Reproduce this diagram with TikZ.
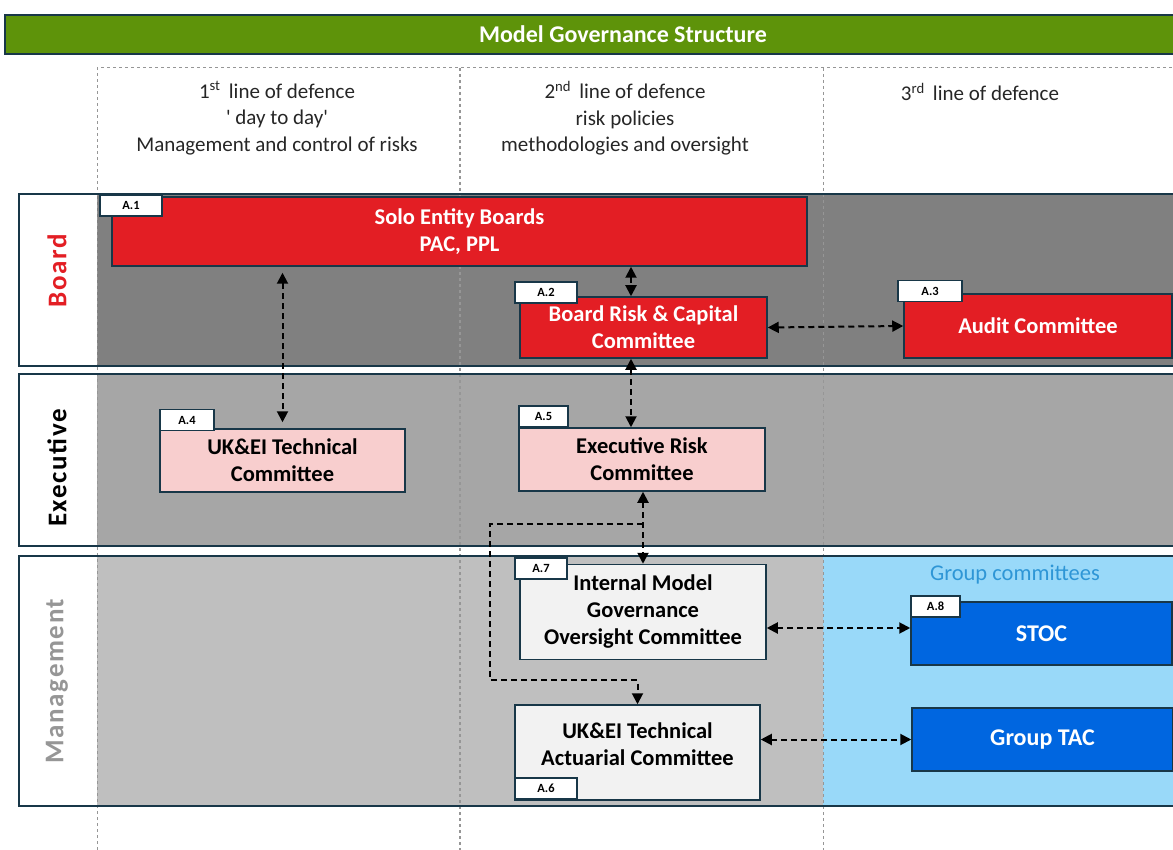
\documentclass[tikz,border=0pt]{standalone}
\usepackage{fontspec}
\setmainfont{Carlito}
\newfontfamily\lanefont[LetterSpace=6.0]{Carlito}
\usepackage{tikz}
\usetikzlibrary{arrows.meta}

\definecolor{frame}{RGB}{24,55,72}
\definecolor{bannergreen}{RGB}{94,147,10}
\definecolor{boardred}{RGB}{227,30,36}
\definecolor{execpink}{RGB}{248,206,206}
\definecolor{mgmtwhite}{RGB}{242,242,242}
\definecolor{groupblue}{RGB}{0,102,224}
\definecolor{groupsky}{RGB}{153,217,249}
\definecolor{grouptext}{RGB}{46,150,214}
\definecolor{boardgray}{RGB}{128,128,128}
\definecolor{execgray}{RGB}{166,166,166}
\definecolor{mgmtgray}{RGB}{191,191,191}
\definecolor{lanegray}{RGB}{150,150,150}
\definecolor{guide}{RGB}{150,150,150}

\tikzset{
  committee/.style={draw=frame, line width=1.5pt, inner sep=0pt, align=center,
    font=\fontsize{22.5}{27}\selectfont\bfseries},
  redbox/.style={committee, fill=boardred, text=white},
  pinkbox/.style={committee, fill=execpink, text=black},
  greybox/.style={committee, fill=mgmtwhite, text=black},
  bluebox/.style={committee, fill=groupblue, text=white, font=\fontsize{24}{27}\selectfont\bfseries},
  tag/.style={draw=frame, fill=white, line width=1.2pt, inner sep=0pt,
    minimum height=21pt, font=\fontsize{12.5}{13}\selectfont\bfseries},
  header/.style={align=center, font=\fontsize{21}{26.5}\selectfont, text=black!85},
  lanelabel/.style={rotate=90, font=\fontsize{27}{30}\selectfont\lanefont\bfseries},
  link/.style={dash pattern=on 6pt off 4pt, line width=2pt, black,
    {Triangle[length=11pt,width=11pt]}-{Triangle[length=11pt,width=11pt]}},
  feed/.style={dash pattern=on 6pt off 4pt, line width=2pt, black, -{Triangle[length=11pt,width=11pt]}}
}

\begin{document}
\begin{tikzpicture}[x=1pt,y=-1pt]
\useasboundingbox (0,0) rectangle (1173,850);
% banner:
\path[fill=bannergreen,draw=frame,line width=1.5pt] (5,15) rectangle (1190,54);
\node[text=white, font=\fontsize{24}{26}\selectfont\bfseries] (banner) at (623,34) {Model Governance Structure};
% lines of defence:
\node[header] (line1) at (277,118) {1\textsuperscript{st}\, line of defence\\\textquotesingle\ day to day\textquotesingle\\Management and control of risks};
\node[header] (line2) at (625,118) {2\textsuperscript{nd}\, line of defence\\risk policies\\methodologies and oversight};
\node[header] (line3) at (980,92) {3\textsuperscript{rd}\, line of defence};
% lane fills:
\path[fill=boardgray] (97,194) rectangle (1190,366);
\path[fill=execgray] (97,374) rectangle (1190,546);
\path[fill=mgmtgray] (97,556) rectangle (823,806);
\path[fill=groupsky] (823,556) rectangle (1190,806);
% column guides:
\draw[guide, dashed, line width=1pt] (97,850) -- (97,68) -- (1190,68);
\draw[guide, dashed, line width=1.5pt] (460,68) -- (460,850);
\draw[guide, dashed, line width=1pt] (823,68) -- (823,850);
% lane frames:
\draw[frame, line width=1.8pt] (19,194) rectangle (1190,366);
\draw[frame, line width=1.8pt] (19,374) rectangle (1190,546);
\draw[frame, line width=1.8pt] (19,556) rectangle (1190,806);
\path[fill=white] (20,195) rectangle (96,365);
\path[fill=white] (20,375) rectangle (96,545);
\path[fill=white] (20,557) rectangle (96,805);
\node[lanelabel, text=boardred] (boardlane) at (57,271) {Board};
\node[lanelabel, text=black] (execlane) at (57,468) {Executive};
\node[lanelabel, text=lanegray] (mgmtlane) at (57,681) {Management};
% committees:
\node[redbox, minimum width=695pt, minimum height=69pt] (a1) at (459.5,231.5) {Solo Entity Boards\\PAC, PPL};
\node[redbox, minimum width=247pt, minimum height=61pt] (a2) at (643.5,327.5) {Board Risk \& Capital\\Committee};
\node[redbox, minimum width=268pt, minimum height=64pt] (a3) at (1038,326) {Audit Committee};
\node[pinkbox, minimum width=245pt, minimum height=63pt] (a4) at (282.5,460.5) {UK\&EI Technical\\Committee};
\node[pinkbox, minimum width=246pt, minimum height=63pt] (a5) at (642,459.5) {Executive Risk\\Committee};
\node[greybox, minimum width=246pt, minimum height=95pt] (a7) at (643,612) {Internal Model\\Governance\\Oversight Committee};
\node[greybox, minimum width=245pt, minimum height=95pt] (a6) at (637.5,752.5) {};
\node[committee, draw=none] (a6text) at (637.5,744) {UK\&EI Technical\\Actuarial Committee};
\node[bluebox, minimum width=261pt, minimum height=63pt] (a8) at (1041.5,633.5) {STOC};
\node[bluebox, minimum width=261pt, minimum height=63pt] (gtac) at (1042.5,739.5) {Group TAC};
\node[text=grouptext, font=\fontsize{22.5}{24}\selectfont] (grouplbl) at (1015,575) {Group committees};
% tags:
\node[tag, minimum width=62pt] (a1tag) at (131,205.5) {A.1};
\node[tag, minimum width=62pt] (a2tag) at (546,292.5) {A.2};
\node[tag, minimum width=64pt] (a3tag) at (930,291) {A.3};
\node[tag, minimum width=54pt] (a4tag) at (187,420) {A.4};
\node[tag, minimum width=49pt] (a5tag) at (543.5,416.5) {A.5};
\node[tag, minimum width=52pt] (a7tag) at (541,568.5) {A.7};
\node[tag, minimum width=62pt] (a6tag) at (546,788.5) {A.6};
\node[tag, minimum width=49pt] (a8tag) at (935.5,606.5) {A.8};
% connectors:
\coordinate (mid) at (631,0);
\coordinate (row78) at (0,628);
\coordinate (fork) at (643,524);
\coordinate (bend) at (490,680);
\draw[link, shorten <=6pt, shorten >=6pt] (a1.south -| a4.north) -- (a4.north);
\draw[link] (a1.south -| mid) -- (a2.north -| mid);
\draw[link] (a2.east) -- (a3.west);
\draw[link] (a2.south -| mid) -- (a5.north -| mid);
\draw[link] (a5.south -| a7.north) -- (a7.north);
\draw[link] (a7.east |- row78) -- (a8.west |- row78);
\draw[link] (a6.east |- gtac.west) -- (gtac.west);
\draw[feed] (fork) -- (fork -| bend) -- (bend) -| (a6.north);
\end{tikzpicture}
\end{document}
